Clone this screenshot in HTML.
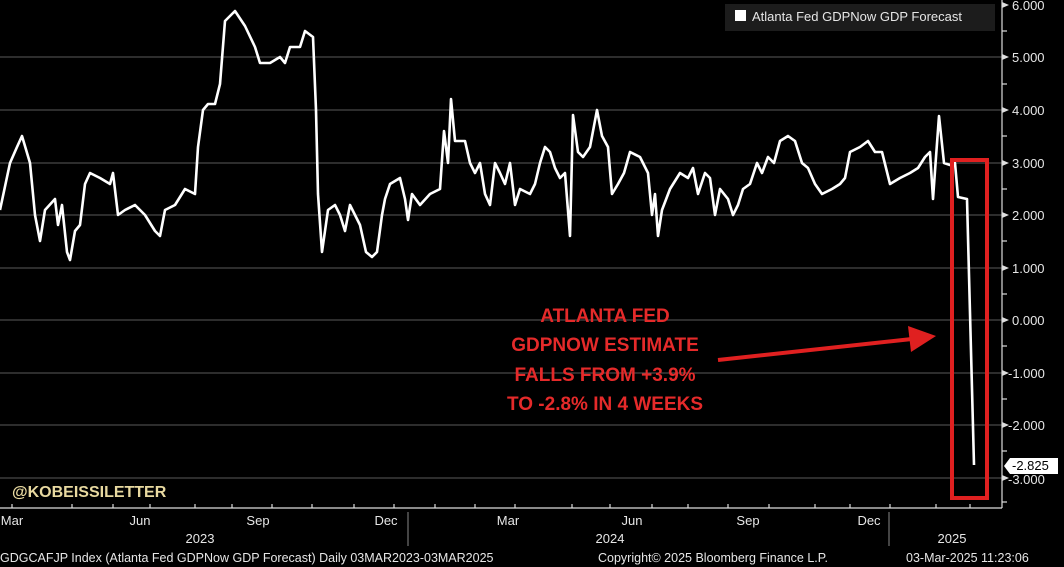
<!DOCTYPE html>
<html><head><meta charset="utf-8"><style>
body{margin:0;background:#000;width:1064px;height:567px;overflow:hidden}
svg{display:block}
text{font-family:"Liberation Sans",sans-serif}
</style></head><body>
<svg width="1064" height="567" viewBox="0 0 1064 567">
<rect width="1064" height="567" fill="#000"/>
<g stroke="#5a5a5a" stroke-width="1">
<line x1="0" y1="57" x2="1002" y2="57"/><line x1="0" y1="110" x2="1002" y2="110"/>
<line x1="0" y1="163" x2="1002" y2="163"/><line x1="0" y1="215" x2="1002" y2="215"/>
<line x1="0" y1="268" x2="1002" y2="268"/><line x1="0" y1="320" x2="1002" y2="320"/>
<line x1="0" y1="373" x2="1002" y2="373"/><line x1="0" y1="425" x2="1002" y2="425"/>
<line x1="0" y1="478" x2="1002" y2="478"/>
</g>
<g stroke="#ddd" stroke-width="1.2">
<line x1="1002" y1="0" x2="1002" y2="508"/><line x1="0" y1="508" x2="1002" y2="508"/>
<line x1="1002" y1="31" x2="1007" y2="31"/><line x1="1002" y1="84" x2="1007" y2="84"/><line x1="1002" y1="136" x2="1007" y2="136"/><line x1="1002" y1="189" x2="1007" y2="189"/><line x1="1002" y1="241" x2="1007" y2="241"/><line x1="1002" y1="294" x2="1007" y2="294"/><line x1="1002" y1="346" x2="1007" y2="346"/><line x1="1002" y1="399" x2="1007" y2="399"/><line x1="1002" y1="451" x2="1007" y2="451"/><line x1="1002" y1="502" x2="1007" y2="502"/>
<line x1="12" y1="508" x2="12" y2="504"/><line x1="72" y1="508" x2="72" y2="504"/><line x1="113" y1="508" x2="113" y2="504"/><line x1="150" y1="508" x2="150" y2="504"/><line x1="195" y1="508" x2="195" y2="504"/><line x1="232" y1="508" x2="232" y2="504"/><line x1="272" y1="508" x2="272" y2="504"/><line x1="312" y1="508" x2="312" y2="504"/><line x1="354" y1="508" x2="354" y2="504"/><line x1="394" y1="508" x2="394" y2="504"/><line x1="435" y1="508" x2="435" y2="504"/><line x1="475" y1="508" x2="475" y2="504"/><line x1="515" y1="508" x2="515" y2="504"/><line x1="572" y1="508" x2="572" y2="504"/><line x1="610" y1="508" x2="610" y2="504"/><line x1="652" y1="508" x2="652" y2="504"/><line x1="688" y1="508" x2="688" y2="504"/><line x1="728" y1="508" x2="728" y2="504"/><line x1="769" y1="508" x2="769" y2="504"/><line x1="815" y1="508" x2="815" y2="504"/><line x1="850" y1="508" x2="850" y2="504"/><line x1="890" y1="508" x2="890" y2="504"/><line x1="936" y1="508" x2="936" y2="504"/><line x1="970" y1="508" x2="970" y2="504"/>
</g>
<g fill="#ddd">
<polygon points="1002,2 1009,5 1002,8"/><polygon points="1002,54 1009,57 1002,60"/><polygon points="1002,107 1009,110 1002,113"/><polygon points="1002,160 1009,163 1002,166"/><polygon points="1002,212 1009,215 1002,218"/><polygon points="1002,265 1009,268 1002,271"/><polygon points="1002,317 1009,320 1002,323"/><polygon points="1002,370 1009,373 1002,376"/><polygon points="1002,422 1009,425 1002,428"/><polygon points="1002,475 1009,478 1002,481"/>
</g>
<g stroke="#888" stroke-width="1"><line x1="408" y1="512" x2="408" y2="546"/><line x1="889" y1="512" x2="889" y2="546"/></g>
<g fill="#e6e6e6" font-size="13">
<text x="1012" y="10">6.000</text><text x="1012" y="62">5.000</text><text x="1012" y="115">4.000</text><text x="1012" y="168">3.000</text><text x="1012" y="220">2.000</text><text x="1012" y="273">1.000</text><text x="1012" y="325">0.000</text><text x="1008" y="378">-1.000</text><text x="1008" y="430">-2.000</text><text x="1008" y="484">-3.000</text>
</g>
<polygon points="1004,466 1010,458 1058,458 1058,474 1010,474" fill="#fff"/>
<text x="1012" y="470" font-size="13" fill="#000">-2.825</text>
<rect x="725" y="4" width="270" height="27" fill="#1c1c1c"/>
<rect x="735" y="10" width="11" height="11" fill="#fff"/>
<text x="752" y="21" font-size="13" fill="#e6e6e6">Atlanta Fed GDPNow GDP Forecast</text>
<polyline fill="none" stroke="#fff" stroke-width="2.6" stroke-linejoin="round" points="0,210 10,163 17,147 22,136 30,163 35,215 40,241 45,210 55,199 58,225 62,205 67,252 70,260 75,231 80,225 85,184 90,173 100,178 110,184 113,173 118,215 125,210 135,205 145,215 155,231 160,236 165,210 175,205 185,189 195,194 198,147 203,110 208,104 215,104 220,84 225,21 235,11 245,26 255,47 260,63 270,63 280,57 285,63 290,47 300,47 305,31 313,37 316,110 318,194 322,252 328,210 335,205 340,215 345,231 350,205 355,215 360,225 366,252 372,257 377,252 382,215 385,199 390,184 400,178 405,199 408,220 412,194 420,205 430,194 440,189 444,131 448,163 451,99 455,141 465,141 470,163 475,173 480,163 485,194 490,205 495,163 500,173 505,184 510,163 515,205 520,189 530,194 535,184 540,163 545,147 550,152 555,168 560,178 565,173 570,236 573,115 578,152 583,157 590,147 597,110 602,136 608,147 612,194 618,184 624,173 630,152 640,157 648,173 652,215 655,194 658,236 662,210 670,189 680,173 688,178 693,168 698,194 705,173 710,178 715,215 720,189 728,199 733,215 738,205 743,189 750,184 757,163 762,173 768,157 774,163 780,141 788,136 795,141 802,163 808,168 815,184 822,194 832,189 840,184 845,178 850,152 860,147 868,141 875,152 882,152 886,168 890,184 900,178 910,173 918,168 925,157 930,152 933,199 936,157 939,116 944,163 950,165 955,163 958,197 967,199 974,465"/>
<rect x="952" y="160" width="35" height="338" fill="none" stroke="#e02020" stroke-width="4"/>
<line x1="718" y1="360" x2="912" y2="339" stroke="#e02020" stroke-width="4"/>
<polygon points="936,336 908,326 911,352" fill="#e02020"/>
<g fill="#e52a2a" font-size="19" font-weight="bold" text-anchor="middle">
<text x="605" y="322">ATLANTA FED</text><text x="605" y="351">GDPNOW ESTIMATE</text><text x="605" y="381">FALLS FROM +3.9%</text><text x="605" y="410">TO -2.8% IN 4 WEEKS</text>
</g>
<text x="12" y="497" font-size="16" font-weight="bold" fill="#e8d9a0">@KOBEISSILETTER</text>
<g fill="#e6e6e6" font-size="13" text-anchor="middle">
<text x="12" y="525">Mar</text><text x="140" y="525">Jun</text><text x="258" y="525">Sep</text><text x="386" y="525">Dec</text><text x="508" y="525">Mar</text><text x="632" y="525">Jun</text><text x="748" y="525">Sep</text><text x="869" y="525">Dec</text>
<text x="200" y="543">2023</text><text x="610" y="543">2024</text><text x="952" y="543">2025</text>
</g>
<g fill="#e6e6e6" font-size="12.5">
<text x="0" y="562">GDGCAFJP Index (Atlanta Fed GDPNow GDP Forecast)  Daily 03MAR2023-03MAR2025</text>
<text x="598" y="562">Copyright© 2025 Bloomberg Finance L.P.</text>
<text x="906" y="562">03-Mar-2025 11:23:06</text>
</g>
</svg>
</body></html>
